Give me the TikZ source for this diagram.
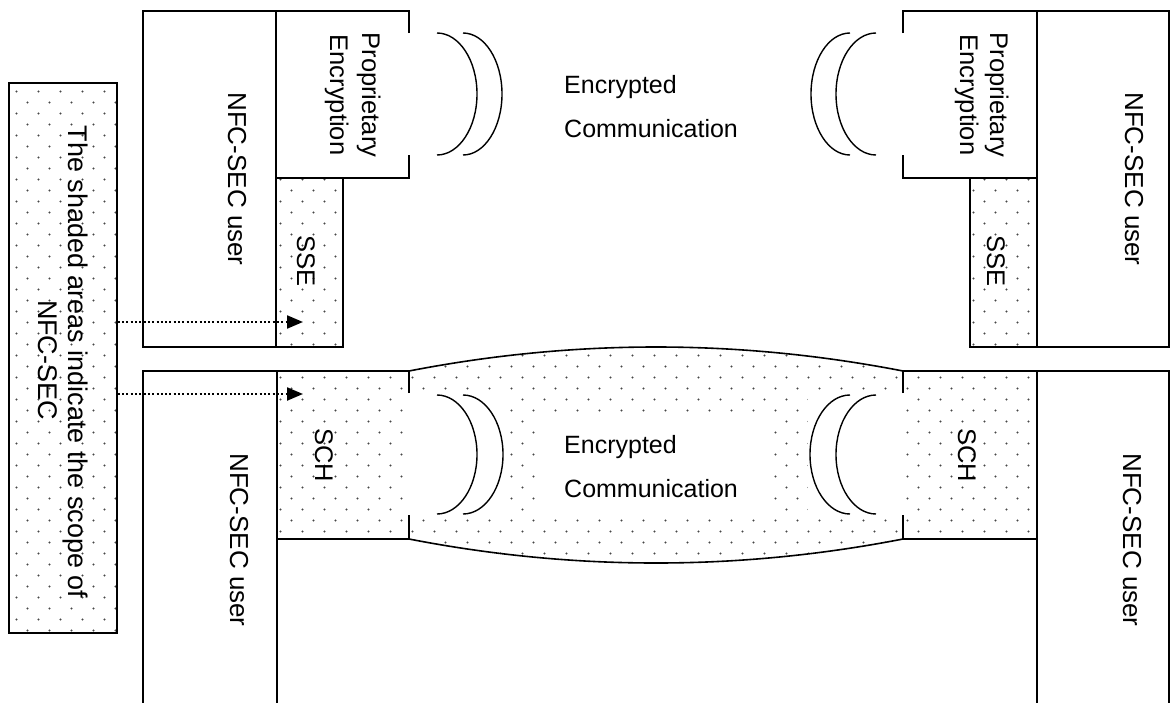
\documentclass[tikz,border=0pt]{standalone}
\usepackage{fontspec}
\setmainfont{Liberation Sans}
\usetikzlibrary{patterns,arrows.meta}
\pgfdeclarepatternformonly{sdots}{\pgfpoint{-1pt}{-1pt}}{\pgfpoint{23pt}{23pt}}{\pgfpoint{22pt}{22pt}}{%
  \pgfpathcircle{\pgfpoint{5.5pt}{5.5pt}}{1.15pt}%
  \pgfpathcircle{\pgfpoint{16.5pt}{16.5pt}}{1.15pt}%
  \pgfusepath{fill}}
\newcommand{\cparen}[4]{% #1 end x, #2 bulge x, #3 top y, #4 bottom y
  \draw[wave] (#1,#3) .. controls ({#1+0.5523*(#2-#1)},#3) and (#2,{(#3+#4)/2-0.5523*(#4-#3)/2}) .. (#2,{(#3+#4)/2})
    .. controls (#2,{(#3+#4)/2+0.5523*(#4-#3)/2}) and ({#1+0.5523*(#2-#1)},#4) .. (#1,#4);}
\begin{document}
\begin{tikzpicture}[x=1pt,y=-1pt,
  box/.style={draw=black, line width=1.6pt},
  shaded/.style={pattern=sdots, pattern color=black!72},
  lbl/.style={font=\fontsize{25.5}{30}\selectfont, inner sep=0pt, anchor=base},
  vlbl/.style={lbl, rotate=-90},
  pointer/.style={line width=2.2pt, dash pattern=on 2pt off 2.3pt, -{Triangle[length=16pt,width=13pt]}},
  wave/.style={line width=1.4pt}
]
\clip (0,0) rectangle (1173,702);
\fill[white] (0,0) rectangle (1173,702);

% ---- shaded areas
\fill[shaded] (276,178) rectangle (343,347);
\fill[shaded] (970,178) rectangle (1037,347);
\fill[shaded] (277,371) -- (409,371) .. controls (573.7,339) and (738.3,339) .. (903,371) -- (1037,371)
  -- (1037,539) -- (903,539) .. controls (738.3,571) and (573.7,571) .. (409,539) -- (277,539) -- cycle;
\fill[white] (409,395) rectangle (505,513);
\fill[white] (808,395) rectangle (903,513);
\fill[white] (543,415) rectangle (770,512);

% ---- legend
\node[box, shaded, minimum width=108pt, minimum height=550pt, inner sep=0pt] (legend) at (63,358) {};
\node[vlbl, font=\fontsize{27}{30}\selectfont] (legendA) at (68,362) {The shaded areas indicate the scope of};
\node[vlbl, font=\fontsize{27}{30}\selectfont] (legendB) at (38,360) {NFC-SEC};

% ---- top left
\draw[box] (143,11) rectangle (276,347);
\draw[box] (409,33) -- (409,11) -- (276,11) -- (276,178) -- (409,178) -- (409,155);
\draw[box] (276,178) rectangle (343,347);
% ---- top right
\draw[box] (1037,11) rectangle (1169,347);
\draw[box] (903,33) -- (903,11) -- (1037,11) -- (1037,178) -- (903,178) -- (903,155);
\draw[box] (970,178) rectangle (1037,347);

% ---- bottom left
\draw[box] (143,712) -- (143,371) -- (277,371) -- (277,712);
\draw[box] (409,393) -- (409,371) -- (277,371);
\draw[box] (409,515) -- (409,539) -- (277,539);
% ---- bottom right
\draw[box] (1169,712) -- (1169,371) -- (1037,371) -- (1037,712);
\draw[box] (903,393) -- (903,371) -- (1037,371);
\draw[box] (903,515) -- (903,539) -- (1037,539);
% ---- lens
\draw[box] (409,371) .. controls (573.7,339) and (738.3,339) .. (903,371);
\draw[box] (409,539) .. controls (573.7,571) and (738.3,571) .. (903,539);

% ---- wave arcs
\cparen{437}{477}{33}{155}
\cparen{463}{502}{33}{155}
\cparen{876}{836}{33}{155}
\cparen{850}{811}{33}{155}
\cparen{437}{477}{395}{514}
\cparen{463}{503}{395}{514}
\cparen{876}{836}{395}{514}
\cparen{850}{810}{395}{514}

% ---- labels
\node[vlbl, font=\fontsize{26}{30}\selectfont] (userTL) at (228,179) {NFC-SEC user};
\node[vlbl, font=\fontsize{26}{30}\selectfont] (userTR) at (1125,179) {NFC-SEC user};
\node[vlbl, font=\fontsize{26}{30}\selectfont] (userBL) at (230,540) {NFC-SEC user};
\node[vlbl, font=\fontsize{26}{30}\selectfont] (userBR) at (1123,540) {NFC-SEC user};
\node[vlbl] (propL1) at (362,95) {Proprietary};
\node[vlbl] (propL2) at (330,95) {Encryption};
\node[vlbl] (propR1) at (990,95) {Proprietary};
\node[vlbl] (propR2) at (960,95) {Encryption};
\node[vlbl] (sseL) at (297,261) {SSE};
\node[vlbl] (sseR) at (987,261) {SSE};
\node[vlbl] (schL) at (315,455) {SCH};
\node[vlbl] (schR) at (958,455) {SCH};
\node[lbl, font=\fontsize{25}{30}\selectfont, anchor=base west] (encT1) at (564,93) {Encrypted};
\node[lbl, font=\fontsize{25}{30}\selectfont, anchor=base west] (encT2) at (564,137) {Communication};
\node[lbl, font=\fontsize{25}{30}\selectfont, anchor=base west] (encB1) at (564,453) {Encrypted};
\node[lbl, font=\fontsize{25}{30}\selectfont, anchor=base west] (encB2) at (564,497.5) {Communication};

% ---- pointers
\coordinate (ssept) at (303,322);
\coordinate (schpt) at (303,394);
\draw[pointer] (legend.east |- ssept) -- (ssept);
\draw[pointer] (legend.east |- schpt) -- (schpt);
\end{tikzpicture}
\end{document}
